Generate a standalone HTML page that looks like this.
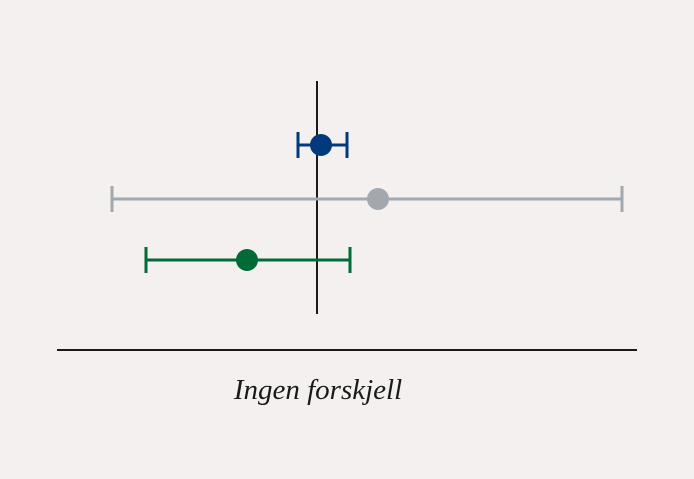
<!DOCTYPE html>
<html><head><style>html,body{margin:0;padding:0;background:#f3f0ef;width:694px;height:479px;overflow:hidden;}svg{display:block;}</style></head>
<body>
<svg width="694" height="479" xmlns="http://www.w3.org/2000/svg">
<rect width="694" height="479" fill="#f3f0ef"/>
<line x1="317" y1="81" x2="317" y2="314" stroke="#1a1a1a" stroke-width="2"/>
<g stroke="#003a7d" stroke-width="3" fill="none">
<line x1="298" y1="145" x2="347" y2="145"/><line x1="298" y1="132" x2="298" y2="158"/><line x1="347" y1="132" x2="347" y2="158"/></g>
<circle cx="321" cy="145" r="11" fill="#003a7d"/>
<g stroke="#a3a8ae" stroke-width="3" fill="none">
<line x1="112" y1="199" x2="622" y2="199"/><line x1="112" y1="186" x2="112" y2="212"/><line x1="622" y1="186" x2="622" y2="212"/></g>
<circle cx="378" cy="199" r="11" fill="#a3a8ae"/>
<g stroke="#006b36" stroke-width="3" fill="none">
<line x1="146" y1="260" x2="350" y2="260"/><line x1="146" y1="247" x2="146" y2="273"/><line x1="350" y1="247" x2="350" y2="273"/></g>
<circle cx="247" cy="260" r="11" fill="#006b36"/>
<line x1="57" y1="350" x2="637" y2="350" stroke="#1a1a1a" stroke-width="2"/>
<text x="318" y="399" text-anchor="middle" font-family="Liberation Serif, serif" font-style="italic" font-size="29" fill="#1a1a1a">Ingen forskjell</text>
</svg>
</body></html>
